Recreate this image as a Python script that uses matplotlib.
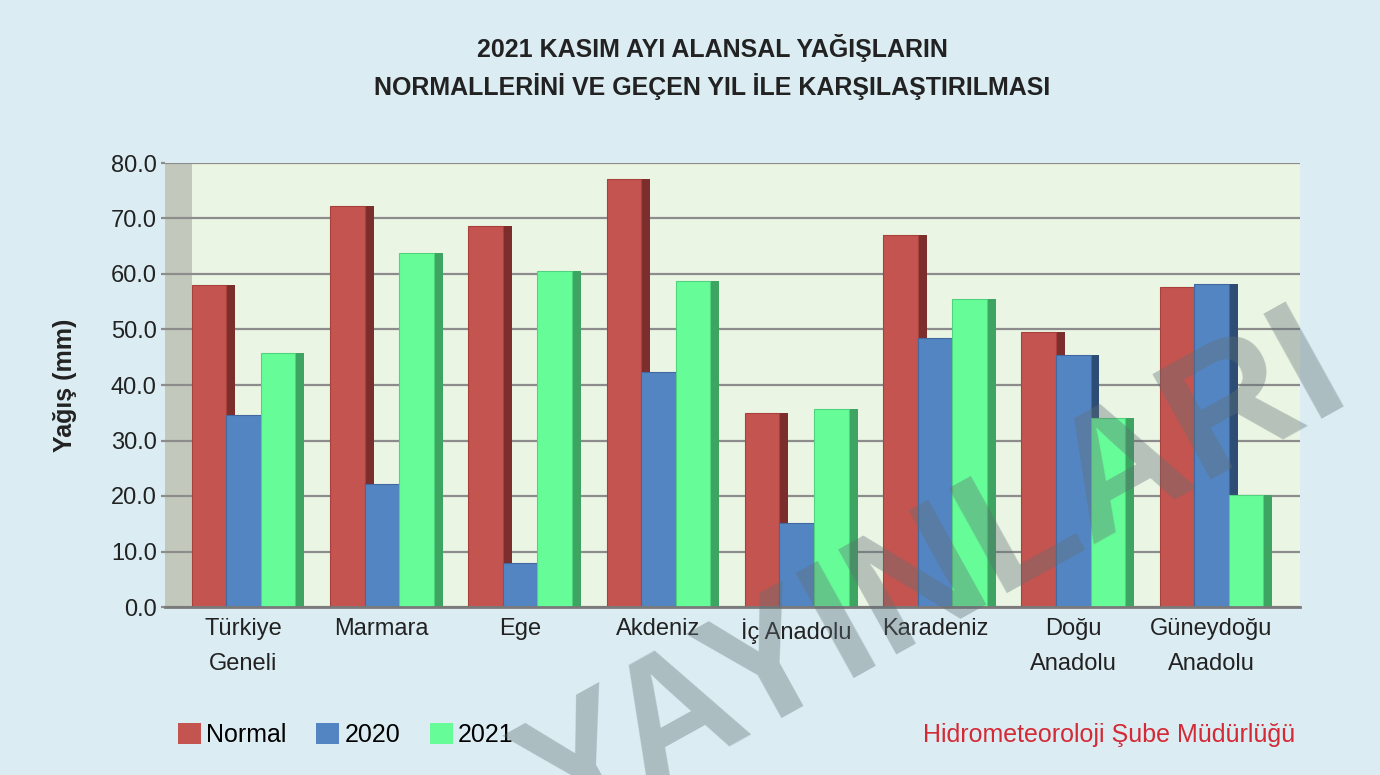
import matplotlib
matplotlib.use("Agg")
import matplotlib.pyplot as plt
from matplotlib.patches import Patch
import numpy as np

plt.rcParams['font.family'] = ['Liberation Sans', 'DejaVu Sans']

categories = ["Türkiye\nGeneli", "Marmara", "Ege", "Akdeniz", "İç Anadolu",
              "Karadeniz", "Doğu\nAnadolu", "Güneydoğu\nAnadolu"]
normal = [58.0, 72.3, 68.6, 77.1, 35.0, 67.0, 49.5, 57.7]
y2020 = [34.6, 22.2, 7.9, 42.3, 15.1, 48.5, 45.4, 58.2]
y2021 = [45.8, 63.8, 60.5, 58.7, 35.7, 55.5, 34.1, 20.2]
series_names = ["Normal", "2020", "2021"]
yticks = [0, 10, 20, 30, 40, 50, 60, 70, 80]

front_colors = ["#c4544f", "#5485c3", "#66fd98"]
side_colors = ["#7c2e2d", "#2e4d75", "#3da461"]
edge_colors = ["#a8403c", "#41699f", "#4fd47d"]

W, H = 1380, 775
fig = plt.figure(figsize=(W / 100, H / 100), dpi=100)
fig.patch.set_facecolor("#dbedf3")

ax = fig.add_axes([165 / W, (H - 607) / H, 1135 / W, 444 / H])
ax.set_facecolor("#ebf5e4")

x = np.arange(len(categories))
xmin, xmax = -0.568, 7.64
ax.set_xlim(xmin, xmax)
ax.set_ylim(0, 80)

# left gray wall
ax.axvspan(xmin, xmin + 0.195, color="#c2c9bc", zorder=0.5, lw=0)

bw = 0.25
sd = 0.065
for k, vals in enumerate([normal, y2020, y2021]):
    left = x - 0.375 + k * bw
    ax.bar(left + bw, vals, width=sd, align="edge", color=side_colors[k],
           zorder=3 + 2 * k, lw=0)
    ax.bar(left, vals, width=bw, align="edge", color=front_colors[k],
           edgecolor=edge_colors[k], linewidth=0.8, zorder=4 + 2 * k)

ax.set_yticks(yticks)
ax.set_yticklabels([f"{v:.1f}" for v in yticks], fontsize=17, color="#222222")
ax.yaxis.grid(True, color="#8c8c8c", lw=1.6, zorder=1)
ax.set_axisbelow(True)
ax.tick_params(axis="y", length=3, width=1.6, color="#8c8c8c", pad=3)
ax.set_xticks(x)
ax.set_xticklabels(categories, fontsize=17, color="#222222", linespacing=1.75)
ax.tick_params(axis="x", length=0, pad=8)
for s in ["top", "right", "left"]:
    ax.spines[s].set_visible(False)
ax.spines["bottom"].set_color("#7a7a7a")
ax.spines["bottom"].set_linewidth(2)
ax.spines["bottom"].set_zorder(20)

ax.set_ylabel("Yağış (mm)", fontsize=18, fontweight="bold", color="#222222",
              labelpad=24)

fig.text(712 / W, 1 - 48 / H, "2021 KASIM AYI ALANSAL YAĞIŞLARIN",
         ha="center", va="center", fontsize=18, fontweight="bold", color="#222222")
fig.text(712 / W, 1 - 86 / H, "NORMALLERİNİ VE GEÇEN YIL İLE KARŞILAŞTIRILMASI",
         ha="center", va="center", fontsize=18, fontweight="bold", color="#222222")

handles = [Patch(facecolor=c, edgecolor="none") for c in front_colors]
fig.legend(handles, series_names, loc="center left",
           bbox_to_anchor=(178 / W, 1 - 735 / H), ncol=3, frameon=False,
           fontsize=18, handlelength=0.92, handleheight=0.92,
           handletextpad=0.2, columnspacing=1.2, borderaxespad=0,
           borderpad=0)

fig.text(1295 / W, 1 - 735 / H, "Hidrometeoroloji Şube Müdürlüğü",
         ha="right", va="center", fontsize=18, color="#d42a36")

# watermark
fig.text(956 / W, 1 - 620 / H, "YAYINLARI", rotation=29, rotation_mode="anchor",
         ha="center", va="baseline", fontsize=126, fontweight="bold",
         color="#5f6f73", alpha=0.38, zorder=50)

fig.savefig("out.png", dpi=100, facecolor=fig.get_facecolor())
